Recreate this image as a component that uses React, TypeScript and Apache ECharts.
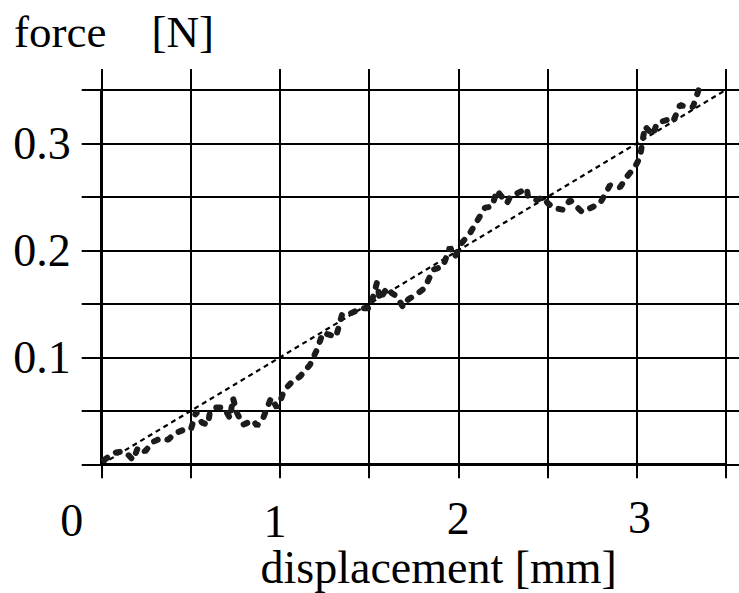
import React, { useEffect, useRef } from "react";
import * as echarts from "echarts";

// displacement [mm] and force [N]
const dispX = [
  0.013, 0.047, 0.08, 0.114, 0.148, 0.176, 0.204, 0.243, 0.288, 0.327,
  0.372, 0.411, 0.456, 0.501, 0.529, 0.562, 0.596, 0.607, 0.641, 0.686,
  0.72, 0.736, 0.759, 0.792, 0.849, 0.871, 0.905, 0.95, 0.983, 1.0,
  1.022, 1.067, 1.112, 1.168, 1.207, 1.241, 1.28, 1.314, 1.348, 1.381,
  1.42, 1.46, 1.505, 1.544, 1.56, 1.6, 1.628, 1.656, 1.69, 1.718,
  1.774, 1.813, 1.858, 1.914, 1.953, 1.981, 2.02, 2.065, 2.15, 2.189,
  2.217, 2.273, 2.29, 2.385, 2.391, 2.441, 2.475, 2.503, 2.531, 2.587,
  2.627, 2.694, 2.722, 2.795, 2.851, 2.907, 2.946, 2.991, 3.019, 3.047,
  3.092, 3.114, 3.17, 3.204, 3.244, 3.283, 3.316, 3.366,
];
const forceY = [
  0.004, 0.008, 0.011, 0.012, 0.009, 0.004, 0.016, 0.012, 0.021, 0.024,
  0.023, 0.029, 0.032, 0.033, 0.049, 0.039, 0.037, 0.049, 0.053, 0.053,
  0.043, 0.062, 0.048, 0.037, 0.041, 0.036, 0.043, 0.062, 0.053, 0.058,
  0.069, 0.077, 0.082, 0.093, 0.107, 0.123, 0.121, 0.119, 0.14, 0.14,
  0.143, 0.146, 0.146, 0.17, 0.154, 0.165, 0.16, 0.157, 0.147, 0.154,
  0.16, 0.165, 0.182, 0.185, 0.203, 0.194, 0.207, 0.216, 0.24, 0.241,
  0.256, 0.244, 0.25, 0.258, 0.25, 0.247, 0.25, 0.244, 0.24, 0.238,
  0.247, 0.236, 0.238, 0.244, 0.261, 0.259, 0.269, 0.278, 0.287, 0.316,
  0.308, 0.319, 0.322, 0.32, 0.336, 0.334, 0.334, 0.359,
];
// dotted reference line endpoints
const fitLine = [
  [0, 0],
  [3.5, 0.35],
];
const xTickLabels = [0, 1, 2, 3];

const FONT = "'Liberation Serif', 'Times New Roman', serif";

export default function App() {
  const ref = useRef<HTMLDivElement>(null);
  useEffect(() => {
    if (!ref.current) return;
    const chart = echarts.init(ref.current, undefined, { renderer: "svg" });
    const trace = dispX.map((x, i) => [x, forceY[i]]);
    const black = "#000";
    const lbl = { fontFamily: FONT, fontSize: 46, color: black };
    const xl = { ...lbl, lineHeight: 38 };
    chart.setOption({
      animation: false,
      backgroundColor: "#fff",
      title: {
        text: "force    [N]",
        left: 9,
        top: 4,
        textStyle: { fontFamily: FONT, fontSize: 45, fontWeight: "normal", color: black },
      },
      grid: {
        left: 101.7,
        right: 13.3,
        top: 90,
        bottom: 128.7,
        containLabel: false,
        outerBoundsMode: "none",
      },
      xAxis: [
        {
          type: "value",
          min: 0,
          max: 3.5,
          interval: 0.5,
          position: "bottom",
          axisLine: { show: true, lineStyle: { color: black, width: 3 } },
          axisTick: { show: true, length: 14, lineStyle: { color: black, width: 2 } },
          splitLine: { show: true, lineStyle: { color: black, width: 2 } },
          axisLabel: {
            customValues: xTickLabels,
            margin: 34,
            ...xl,
            formatter: (v: number) => `{t${v}|${v}}`,
            rich: {
              t0: { ...xl, padding: [6, 60, 0, 0] },
              t1: { ...xl, padding: [8, 10, 0, 0] },
              t2: { ...xl, padding: [2, 0, 0, 0] },
              t3: { ...xl, padding: [0, 0, 0, 6] },
            },
          },
          name: "displacement [mm]",
          nameLocation: "middle",
          nameGap: 83,
          nameMoveOverlap: false,
          nameTextStyle: {
            fontFamily: FONT,
            fontSize: 46,
            lineHeight: 40,
            color: black,
            padding: [0, 0, 0, 50],
          },
        },
        {
          type: "value",
          min: 0,
          max: 3.5,
          interval: 0.5,
          position: "top",
          axisLine: { show: false, onZero: false },
          axisTick: { show: true, length: 21, lineStyle: { color: black, width: 2 } },
          splitLine: { show: false },
          axisLabel: { show: false },
        },
      ],
      yAxis: [
        {
          type: "value",
          min: 0,
          max: 0.35,
          interval: 0.05,
          position: "left",
          axisLine: { show: true, lineStyle: { color: black, width: 3 } },
          axisTick: { show: true, length: 20, lineStyle: { color: black, width: 2 } },
          splitLine: { show: true, lineStyle: { color: black, width: 2 } },
          axisLabel: {
            margin: 31,
            ...lbl,
            padding: [10, 0, 0, 0],
            formatter: (v: number) => {
              const t = Math.round(v * 100);
              return t > 0 && t % 10 === 0 && t < 35 ? (t / 100).toFixed(1) : "";
            },
          },
        },
        {
          type: "value",
          min: 0,
          max: 0.35,
          interval: 0.05,
          position: "right",
          axisLine: { show: false, onZero: false },
          axisTick: { show: true, length: 14, lineStyle: { color: black, width: 2 } },
          splitLine: { show: false },
          axisLabel: { show: false },
        },
      ],
      series: [
        {
          type: "line",
          data: fitLine,
          showSymbol: false,
          silent: true,
          lineStyle: { color: black, width: 2.2, type: [5, 4] },
          z: 3,
        },
        {
          type: "line",
          data: trace,
          showSymbol: false,
          silent: true,
          lineStyle: { color: "#1c1c1c", width: 6, type: [4, 10], cap: "round" },
          z: 4,
        },
      ],
    });
    return () => chart.dispose();
  }, []);
  return (
    <div
      ref={ref}
      style={{ position: "fixed", left: 0, top: 0, width: 739, height: 593, background: "#fff" }}
    />
  );
}
